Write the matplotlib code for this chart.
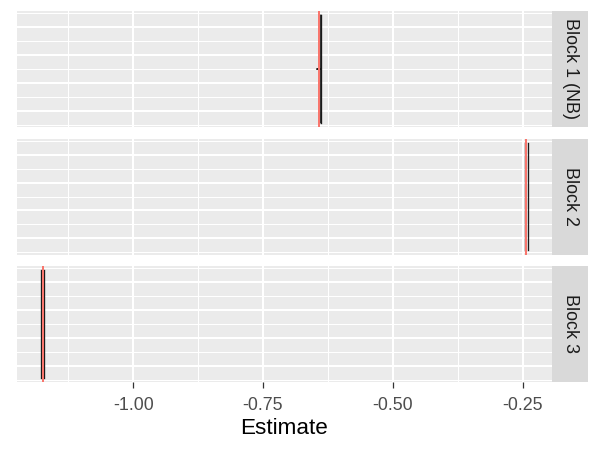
import matplotlib
matplotlib.use("Agg")
import matplotlib.pyplot as plt

plt.rcParams['font.family'] = ['Liberation Sans', 'DejaVu Sans']

# data
blocks = ["Block 1 (NB)", "Block 2", "Block 3"]
true_estimate = [-0.6420, -0.2432, -1.1743]
iteration = [1, 497, 500, 503, 1000]
chain1 = [
    [-0.6386, -0.6386, -0.6465, -0.6386, -0.6386],
    [-0.2457, -0.2457, -0.2457, -0.2457, -0.2457],
    [-1.1768, -1.1768, -1.1768, -1.1768, -1.1768],
]
chain2 = [
    [-0.6378, -0.6378, -0.6378, -0.6378, -0.6378],
    [-0.2402, -0.2402, -0.2402, -0.2402, -0.2402],
    [-1.1718, -1.1718, -1.1718, -1.1718, -1.1718],
]
x_major = [-1.00, -0.75, -0.50, -0.25]
x_labels = ["-1.00", "-0.75", "-0.50", "-0.25"]
x_minor = [-1.125, -0.875, -0.625, -0.375]
y_major = [112, 371, 630, 889]
y_minor = [-17.5, 241.5, 500.5, 759.5, 1018.5]

W, H = 600, 450
fig = plt.figure(figsize=(6, 4.5), dpi=100)

# x range from all values, 5% expansion
allx = true_estimate + [v for c in chain1 + chain2 for v in c]
xmin, xmax = min(allx), max(allx)
xpad = 0.05 * (xmax - xmin)
ypad = 0.04 * (max(iteration) - min(iteration))

panels_px = [(11, 127), (138.5, 254.5), (266, 382)]
left_px, right_px = 17, 552
strip_w = 36

for i, (top, bot) in enumerate(panels_px):
    ax = fig.add_axes([left_px / W, 1 - bot / H, (right_px - left_px) / W, (bot - top) / H])
    ax.set_facecolor('#EBEBEB')
    for s in ax.spines.values():
        s.set_visible(False)
    ax.set_xlim(xmin - xpad, xmax + xpad)
    ax.set_ylim(min(iteration) - ypad, max(iteration) + ypad)
    ax.set_xticks(x_major)
    ax.set_xticks(x_minor, minor=True)
    ax.set_yticks(y_major)
    ax.set_yticks(y_minor, minor=True)
    ax.grid(which='major', color='white', lw=1.5)
    ax.grid(which='minor', color='white', lw=0.75)
    ax.set_axisbelow(True)
    ax.tick_params(axis='y', which='both', length=0, labelleft=False)
    ax.tick_params(axis='x', which='minor', length=0)
    if i == 2:
        ax.set_xticklabels(x_labels)
        ax.tick_params(axis='x', which='major', length=4.5, width=0.9, color='#333333',
                       labelsize=12.9, labelcolor='#4D4D4D', pad=6.5)
        ax.set_xlabel("Estimate", fontsize=16.2, color='black', labelpad=3)
    else:
        ax.tick_params(axis='x', which='major', length=0, labelbottom=False)

    ax.plot(chain1[i], iteration, color='#1A1A1A', lw=0.95, zorder=3)
    ax.plot(chain2[i], iteration, color='#1A1A1A', lw=0.95, zorder=3)
    ax.axvline(true_estimate[i], color='#F8766D', lw=1.44, zorder=4)

    # strip on the right
    sax = fig.add_axes([right_px / W, 1 - bot / H, strip_w / W, (bot - top) / H])
    sax.set_facecolor('#D9D9D9')
    sax.set_xticks([])
    sax.set_yticks([])
    for s in sax.spines.values():
        s.set_visible(False)
    sax.text(0.5, 0.5, blocks[i], rotation=270, ha='center', va='center',
             fontsize=12.9, color='#1A1A1A', transform=sax.transAxes)

fig.savefig("out.png", dpi=100)
